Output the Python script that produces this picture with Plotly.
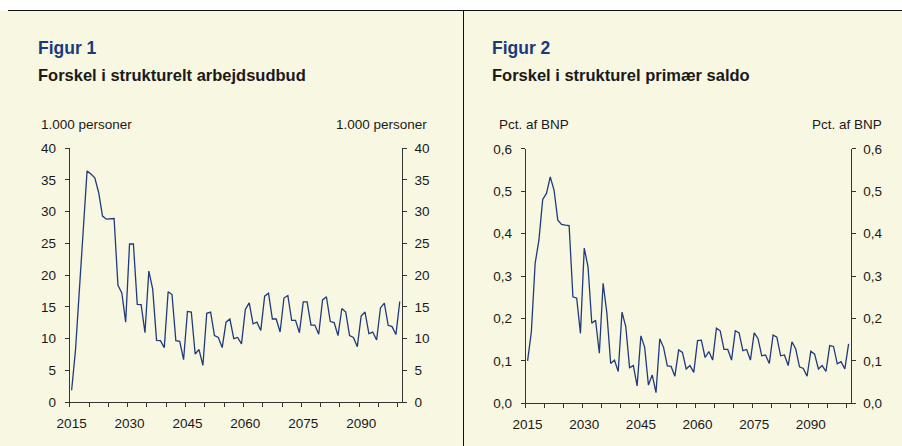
import plotly.graph_objects as go

years = list(range(2015, 2101))

arbejdsudbud = [
    1.9, 8.2, 17.6, 28.0, 36.4, 35.9, 35.3, 33.0, 29.3, 28.8,
    28.8, 28.9, 18.4, 17.2, 12.6, 24.9, 24.9, 15.4, 15.35, 10.95,
    20.65, 17.8, 9.75, 9.7, 8.6, 17.4, 16.95, 9.7, 9.6,
    6.7, 14.3, 14.2, 7.6, 8.3, 5.8, 14.0, 14.2, 10.5, 10.2,
    8.6, 12.6, 13.1, 10.0, 10.2, 9.2, 14.6, 15.65, 12.35, 12.6,
    11.3, 16.7, 17.15, 13.1, 13.1, 11.05, 16.4,
    16.8, 12.9, 12.9, 10.95, 15.8, 15.8, 12.15, 12.15, 10.7, 16.1,
    16.6, 12.7, 12.55, 10.5, 14.75, 14.2, 10.5, 10.2, 8.75, 13.55,
    14.2, 10.8, 11.05, 9.8, 14.85, 15.6, 12.1, 11.9, 10.65, 15.85,
]

saldo = [
    0.100, 0.169, 0.33, 0.385, 0.481, 0.495, 0.534, 0.503, 0.432, 0.422,
    0.420, 0.419,
    0.251, 0.248, 0.165, 0.366, 0.322, 0.189, 0.196, 0.118, 0.283, 0.212,
    0.094, 0.102, 0.075, 0.215, 0.181, 0.084, 0.089, 0.041, 0.159, 0.132,
    0.043, 0.067, 0.025,
    0.152, 0.132, 0.088, 0.087, 0.064, 0.126, 0.120, 0.081, 0.089, 0.073,
    0.148, 0.149, 0.108, 0.122, 0.102, 0.177, 0.171, 0.127, 0.127, 0.102,
    0.171, 0.166, 0.124, 0.127, 0.102, 0.166, 0.153, 0.112, 0.114, 0.094,
    0.161, 0.156, 0.112, 0.114, 0.089, 0.145, 0.128, 0.086, 0.082, 0.064,
    0.123, 0.116, 0.081, 0.089, 0.075, 0.136, 0.134, 0.093, 0.098, 0.081,
    0.140,
]

label_years = [2015, 2030, 2045, 2060, 2075, 2090]
tick_marks = [y - 0.5 for y in range(2015, 2101, 5)]

y1_ticks = [0, 5, 10, 15, 20, 25, 30, 35, 40]
y2_ticks = [0.0, 0.1, 0.2, 0.3, 0.4, 0.5, 0.6]
y2_text = ["0,0", "0,1", "0,2", "0,3", "0,4", "0,5", "0,6"]

W, H = 902, 446
BG = "#f8f7e2"
LINE = "#1f3a7d"
AX = "#333333"
FONT = "Liberation Sans, Arial, sans-serif"
TXT = "#1a1a1a"


def px(x):
    return x / W


def py(y):
    return 1 - y / H


fig = go.Figure()

# chart 1
fig.add_trace(go.Scatter(x=years, y=arbejdsudbud, xaxis="x", yaxis="y", mode="lines",
                         line=dict(color=LINE, width=1.3), showlegend=False, hoverinfo="skip"))
fig.add_trace(go.Scatter(x=years, y=arbejdsudbud, xaxis="x3", yaxis="y2", mode="lines",
                         line=dict(color="rgba(0,0,0,0)", width=0), showlegend=False, hoverinfo="skip"))
# chart 2
fig.add_trace(go.Scatter(x=years, y=saldo, xaxis="x2", yaxis="y3", mode="lines",
                         line=dict(color=LINE, width=1.3), showlegend=False, hoverinfo="skip"))
fig.add_trace(go.Scatter(x=years, y=saldo, xaxis="x4", yaxis="y4", mode="lines",
                         line=dict(color="rgba(0,0,0,0)", width=0), showlegend=False, hoverinfo="skip"))

dx1 = [px(69.7), px(401.7)]
dy1 = [py(402.3), py(148.0)]
dx2 = [px(525.7), px(850.5)]
dy2 = [py(403.3), py(148.9)]

xr = [2014.5, 2100.5]
tickfont = dict(family=FONT, size=13.5, color=TXT)

common_x_lab = dict(range=xr, tickmode="array", tickvals=label_years,
                    ticktext=[str(v) for v in label_years], ticks="", showgrid=False,
                    zeroline=False, showline=True, linecolor=AX, linewidth=1,
                    tickfont=tickfont, ticklabelstandoff=8, fixedrange=True,
                    automargin=False)
common_x_tick = dict(range=xr, tickmode="array", tickvals=tick_marks, ticks="outside",
                     ticklen=4, tickcolor=AX, tickwidth=1, showticklabels=False,
                     showgrid=False, zeroline=False, showline=False, fixedrange=True,
                     automargin=False)
common_y = dict(ticks="outside", ticklen=4, tickcolor=AX, showline=True, linecolor=AX,
                showgrid=False, zeroline=False, tickfont=tickfont, fixedrange=True,
                automargin=False, tickmode="array")

fig.update_layout(
    width=W, height=H,
    margin=dict(l=0, r=0, t=0, b=0, autoexpand=False),
    paper_bgcolor="white",
    plot_bgcolor="rgba(0,0,0,0)",
    xaxis=dict(domain=dx1, anchor="y", **common_x_lab),
    xaxis3=dict(overlaying="x", anchor="y", **common_x_tick),
    yaxis=dict(domain=dy1, anchor="x", range=[0, 40], tickvals=y1_ticks,
               ticklabelstandoff=6, **common_y),
    yaxis2=dict(overlaying="y", anchor="x", side="right", range=[0, 40], tickvals=y1_ticks,
                ticklabelstandoff=5, **common_y),
    xaxis2=dict(domain=dx2, anchor="y3", **common_x_lab),
    xaxis4=dict(overlaying="x2", anchor="y3", **common_x_tick),
    yaxis3=dict(domain=dy2, anchor="x2", range=[0, 0.6], tickvals=y2_ticks, ticktext=y2_text,
                ticklabelstandoff=6, **common_y),
    yaxis4=dict(overlaying="y3", anchor="x2", side="right", range=[0, 0.6], tickvals=y2_ticks,
                ticktext=y2_text, ticklabelstandoff=5, **common_y),
    shapes=[
        dict(type="rect", xref="paper", yref="paper", x0=0, x1=1, y0=0, y1=py(10.5),
             fillcolor=BG, line=dict(width=0), layer="below"),
        dict(type="line", xref="paper", yref="paper", x0=px(8), x1=1, y0=py(10.5), y1=py(10.5),
             line=dict(color="#111111", width=1)),
        dict(type="line", xref="paper", yref="paper", x0=px(463.5), x1=px(463.5),
             y0=0, y1=py(10.5), line=dict(color="#111111", width=1)),
    ],
)

ann = []


def text(x, y, s, size, color=TXT, bold=False, xanchor="left"):
    ann.append(dict(x=px(x), y=py(y), xref="paper", yref="paper", text=("<b>%s</b>" % s) if bold else s,
                    showarrow=False, xanchor=xanchor, yanchor="middle",
                    font=dict(family=FONT, size=size, color=color)))


text(35.5, 48, "Figur 1", 17.5, color="#1b3a7e", bold=True)
text(35.5, 75, "Forskel i strukturelt arbejdsudbud", 16.5, bold=True)
text(38.5, 124, "1.000 personer", 13.5)
text(428.5, 124, "1.000 personer", 13.5, xanchor="right")

text(489.5, 48, "Figur 2", 17.5, color="#1b3a7e", bold=True)
text(489.5, 75, "Forskel i strukturel primær saldo", 16.5, bold=True)
text(496.5, 124, "Pct. af BNP", 13.5)
text(883.5, 124, "Pct. af BNP", 13.5, xanchor="right")

fig.update_layout(annotations=ann)

fig.write_html(
    "out.html",
    config={"displayModeBar": False, "responsive": False},
    post_script="document.body.style.margin='0';document.body.style.padding='0';"
                "document.body.style.overflow='hidden';",
)
